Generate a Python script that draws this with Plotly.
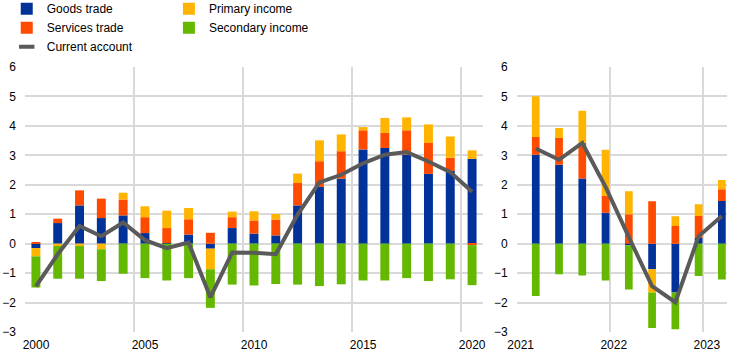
import plotly.graph_objects as go

# ---- Annual data (2000-2020) ----
years = list(range(2000, 2021))
goods_a = [-0.15, 0.70, 1.30, 0.87, 0.96, 0.36, 0.02, 0.31, -0.17, 0.53, 0.34,
           0.28, 1.30, 1.93, 2.21, 3.20, 3.25, 3.02, 2.37, 2.47, 2.88]
services_a = [0.05, 0.15, 0.51, 0.66, 0.54, 0.54, 0.51, 0.52, 0.37, 0.37, 0.45,
              0.54, 0.76, 0.87, 0.93, 0.65, 0.51, 0.83, 1.05, 0.45, -0.05]
primary_a = [-0.28, -0.08, -0.08, -0.19, 0.23, 0.37, 0.59, 0.38, -0.70, 0.19, 0.31,
             0.19, 0.32, 0.71, 0.57, 0.11, 0.51, 0.44, 0.63, 0.72, 0.29]
secondary_a = [-1.06, -1.11, -1.11, -1.08, -1.02, -1.17, -1.25, -1.17, -1.31, -1.39, -1.42,
               -1.37, -1.39, -1.44, -1.38, -1.25, -1.25, -1.17, -1.27, -1.21, -1.36]
current_a = [-1.45, -0.36, 0.60, 0.25, 0.72, 0.12, -0.15, 0.04, -1.82, -0.30, -0.31,
             -0.36, 0.99, 2.08, 2.34, 2.73, 3.02, 3.11, 2.79, 2.43, 1.76]

# ---- Quarterly data (2021 Q1 - 2023 Q1) ----
q_year = [2021, 2021, 2021, 2021, 2022, 2022, 2022, 2022, 2023]
q_num = [1, 2, 3, 4, 1, 2, 3, 4, 1]
goods_q = [3.02, 2.68, 2.21, 1.05, -0.05, -0.87, -1.66, 0.19, 1.45]
services_q = [0.60, 0.91, 1.22, 0.59, 1.00, 1.44, 0.60, 0.75, 0.40]
primary_q = [1.39, 0.34, 1.08, 1.55, 0.78, -0.79, 0.33, 0.40, 0.31]
secondary_q = [-1.78, -1.04, -1.08, -1.25, -1.51, -1.20, -1.25, -1.10, -1.22]
current_q = [3.23, 2.85, 3.42, 1.93, 0.22, -1.44, -1.99, 0.25, 0.94]

y_ticks = [-3, -2, -1, 0, 1, 2, 3, 4, 5, 6]
x_ticks_a = [2000, 2005, 2010, 2015, 2020]
x_ticks_q = [2021, 2022, 2023]

names = ["Goods trade", "Services trade", "Primary income", "Secondary income"]
colors = ["#003299", "#FF4B00", "#FFB400", "#65B800"]
line_color = "#5A5A5A"
grid = "#D9D9D9"
font_family = "Liberation Sans, Arial, sans-serif"

x_a = [y + 0.5 for y in years]
x_q = [y + 0.25 * (q - 1) + 0.205 for y, q in zip(q_year, q_num)]

fig = go.Figure()
legend_of = ["legend", "legend", "legend2", "legend2"]
for name, col, va, vq, lg in zip(names, colors,
                                 [goods_a, services_a, primary_a, secondary_a],
                                 [goods_q, services_q, primary_q, secondary_q],
                                 legend_of):
    fig.add_trace(go.Bar(x=x_a, y=va, name=name, marker=dict(color=col, line_width=0),
                         width=0.41, xaxis="x", yaxis="y", legend=lg,
                         legendgroup=name, showlegend=True))
    fig.add_trace(go.Bar(x=x_q, y=vq, name=name, marker=dict(color=col, line_width=0),
                         width=0.083, xaxis="x2", yaxis="y2", legend=lg,
                         legendgroup=name, showlegend=False))

fig.add_trace(go.Scatter(x=x_a, y=current_a, mode="lines", name="Current account",
                         line=dict(color=line_color, width=4), xaxis="x", yaxis="y",
                         showlegend=False))
fig.add_trace(go.Scatter(x=x_q, y=current_q, mode="lines", name="Current account",
                         line=dict(color=line_color, width=4), xaxis="x2", yaxis="y2",
                         showlegend=False))
# legend entry for the line (short thick dash)
fig.add_trace(go.Scatter(x=[None], y=[None], mode="markers", name="Current account",
                         marker=dict(symbol="line-ew-open", size=11, color=line_color,
                                     line=dict(color=line_color, width=4)),
                         xaxis="x", yaxis="y", legend="legend"))

axis_common = dict(showgrid=True, gridcolor=grid, gridwidth=1.5, zeroline=False,
                   tickfont=dict(size=12, color="#000"), showline=False, ticks="")

fig.update_layout(
    width=744, height=359,
    margin=dict(l=25, r=17, t=67, b=27, autoexpand=False),
    paper_bgcolor="white", plot_bgcolor="white",
    font=dict(family=font_family, size=12, color="#000"),
    barmode="relative",
    xaxis=dict(domain=[0, 0.6524], range=[2000, 2021.0], tickvals=x_ticks_a,
               ticktext=[str(t) for t in x_ticks_a], ticklabelshift=11,
               ticklabelstandoff=4, **axis_common),
    xaxis2=dict(domain=[0.7004, 1], range=[2021, 2023.26], tickvals=x_ticks_q,
                ticktext=[str(t) for t in x_ticks_q], ticklabelshift=4,
                ticklabelstandoff=4, anchor="y2", **axis_common),
    yaxis=dict(range=[-3, 6], tickvals=y_ticks, ticklabelstandoff=8, **axis_common),
    yaxis2=dict(range=[-3, 6], tickvals=y_ticks, anchor="x2", ticklabelstandoff=8,
                **axis_common),
    legend=dict(x=-0.026, y=1.275, xanchor="left", yanchor="top", orientation="v",
                font=dict(size=12), bgcolor="rgba(0,0,0,0)", tracegroupgap=0,
                itemclick=False),
    legend2=dict(x=0.205, y=1.275, xanchor="left", yanchor="top", orientation="v",
                 font=dict(size=12), bgcolor="rgba(0,0,0,0)", tracegroupgap=0,
                 itemclick=False),
)

fig.write_html("out.html",
               config={"displayModeBar": False},
               post_script="document.body.style.margin='0';"
                           "document.body.style.padding='0';")
